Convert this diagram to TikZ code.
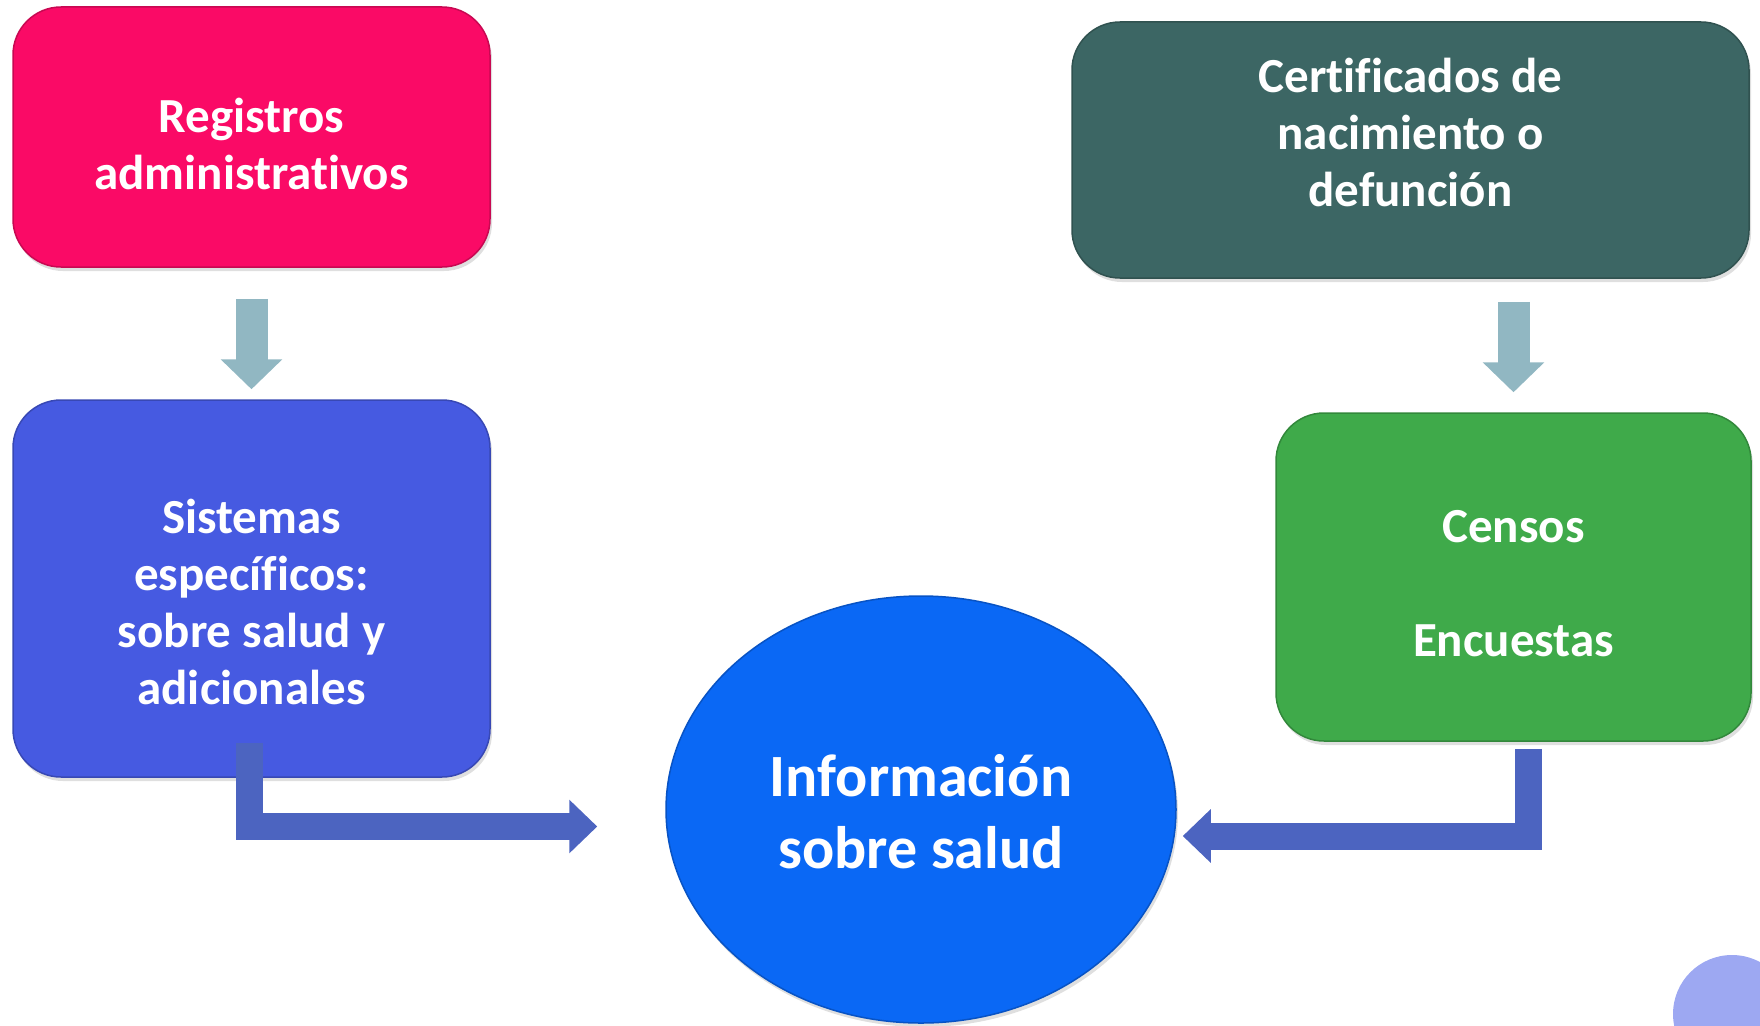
\documentclass[tikz,border=0pt]{standalone}
\usepackage{fontspec}
\setmainfont{Carlito}[Ligatures=NoCommon]
\usetikzlibrary{arrows.meta,shapes.geometric,shadows}

\definecolor{regpink}{RGB}{250,10,102}
\definecolor{sisblue}{RGB}{70,90,225}
\definecolor{certteal}{RGB}{60,102,100}
\definecolor{cengreen}{RGB}{63,170,74}
\definecolor{infoblue}{RGB}{10,104,245}
\definecolor{dotblue}{RGB}{157,168,242}
\definecolor{stepblue}{RGB}{145,183,194}
\definecolor{bentblue}{RGB}{76,100,192}

\begin{document}
\begin{tikzpicture}[
    x=1pt, y=-1pt,
    srcbox/.style ={
        rectangle,
        rounded corners=48pt,
        fill=#1,
        draw=#1!80!black,
        line width=1.5pt,
        drop shadow={shadow xshift=2pt, shadow yshift=-4pt, opacity=0.25}
    },
    boxtext/.style ={
        text=white,
        font=\bfseries\fontsize{49}{57}\selectfont,
        align=center
    },
    downarrow/.style ={
        line width=32pt,
        draw=stepblue,
        -{Triangle[length=30pt, width=60pt]}
    },
    bentarrow/.style ={
        line width=27pt,
        draw=bentblue,
        -{Triangle[length=28pt, width=52pt]}
    }
    ]
    \useasboundingbox (0,0) rectangle (1760,1025);

    % corner dot
    \begin{scope}
        \clip (0,0) rectangle (1760,1025);
        \fill[dotblue] (1732,1014) circle (59pt);
    \end{scope}

    % boxes
    \node[srcbox=regpink, minimum width=477pt, minimum height=260pt] (reg) at (251.5,137) {};
    \node[srcbox=sisblue, minimum width=477pt, minimum height=377pt] (sis) at (251.5,588.5) {};
    \node[srcbox=certteal, minimum width=677pt, minimum height=256pt] (cert) at (1410.5,150) {};
    \node[srcbox=cengreen, minimum width=475pt, minimum height=328pt] (cen) at (1513.5,577) {};
    \node[srcbox=infoblue, ellipse, sharp corners, minimum width=510pt, minimum height=427pt] (info) at (921,809.5) {};

    % texts
    \node[boxtext] (regtext) at ([yshift=-7pt]reg.center) {Registros\\administrativos};
    \node[boxtext] (sistext) at ([yshift=-13pt]sis.center) {Sistemas\\específicos:\\sobre salud y\\adicionales};
    \node[boxtext] (certtext) at ([yshift=18pt]cert.center) {Certificados de\\nacimiento o\\defunción};
    \node[boxtext] (centext) at ([yshift=-7pt]cen.center) {Censos\\[57pt]Encuestas};
    \node[boxtext, font=\bfseries\fontsize{60}{72}\selectfont] (infotext) at ([yshift=-2pt]info.center) {Información\\sobre salud};

    \foreach \src/\dst/\a/\b in {reg/sis/31/10, cert/cen/23/20}
        \draw[downarrow, shorten <=\a pt, shorten >=\b pt] (\src.south -| \dst.north) -- (\dst.north);

    \draw[bentarrow] ([xshift=-2pt,yshift=35pt]sis.south) |- ([xshift=-68pt,yshift=-17pt]info.west);
    \draw[bentarrow] ([xshift=15pt,yshift=-7pt]cen.south) |- ([xshift=6pt,yshift=-26.5pt]info.east);

\end{tikzpicture}
\end{document}
